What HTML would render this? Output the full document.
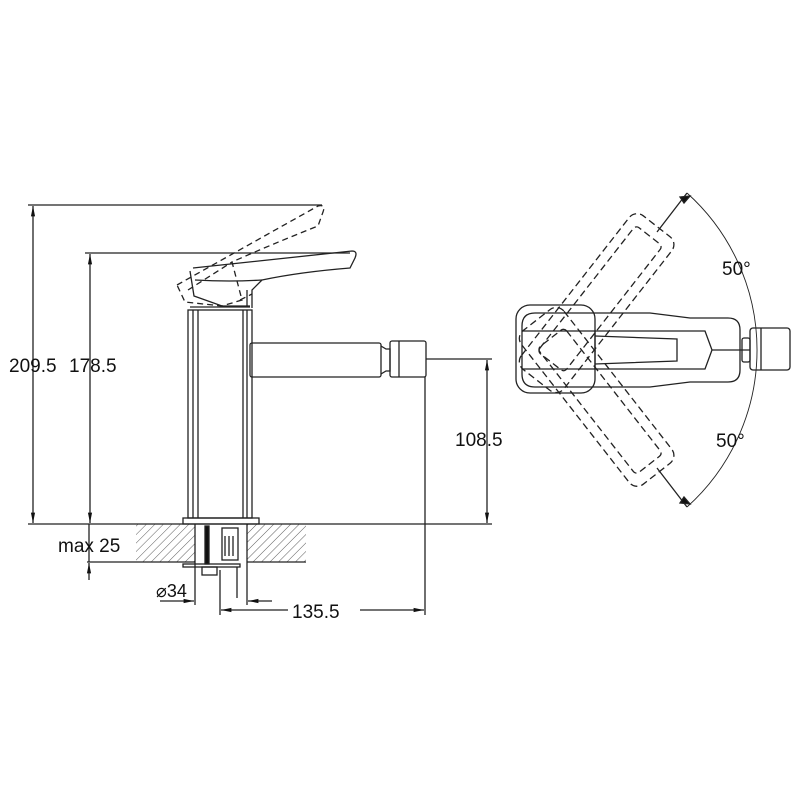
<!DOCTYPE html>
<html><head><meta charset="utf-8"><style>
html,body{margin:0;padding:0;background:#fff}
svg{display:block}
text{font-family:"Liberation Sans",Arial,sans-serif;fill:#111}
</style></head><body>
<svg width="800" height="800" viewBox="0 0 800 800" xmlns="http://www.w3.org/2000/svg">
<defs>
<pattern id="h" width="6" height="6" patternUnits="userSpaceOnUse" patternTransform="rotate(45)">
<line x1="0" y1="0" x2="0" y2="6" stroke="#333" stroke-width="0.8"/>
</pattern>
<marker id="a" viewBox="0 0 10 10" refX="10" refY="5" markerWidth="8" markerHeight="8" orient="auto-start-reverse"><path d="M0,3 L10,5 L0,7 z" fill="#111"/></marker>
</defs>
<g fill="none" stroke="#222" stroke-width="1.3">
<line x1="28" y1="205" x2="322" y2="205"/>
<line x1="85" y1="253" x2="350" y2="253"/>
<line x1="28" y1="524" x2="492" y2="524"/>
<line x1="426" y1="359" x2="492" y2="359"/>
<line x1="87" y1="562" x2="136" y2="562"/>
<line x1="425" y1="377" x2="425" y2="615"/>
<line x1="33" y1="206" x2="33" y2="523" marker-start="url(#a)" marker-end="url(#a)"/>
<line x1="90" y1="254" x2="90" y2="523" marker-start="url(#a)" marker-end="url(#a)"/>
<line x1="487" y1="360" x2="487" y2="523" marker-start="url(#a)" marker-end="url(#a)"/>
<line x1="89" y1="524" x2="89" y2="562"/>
<line x1="89" y1="580" x2="89" y2="563" marker-end="url(#a)"/>
<line x1="160" y1="601" x2="194" y2="601" marker-end="url(#a)"/>
<line x1="272" y1="601" x2="248" y2="601" marker-end="url(#a)"/>
<line x1="195" y1="562" x2="195" y2="605"/>
<line x1="247" y1="562" x2="247" y2="605"/>
<line x1="221" y1="610" x2="288" y2="610" marker-start="url(#a)"/>
<line x1="360" y1="610" x2="424" y2="610" marker-end="url(#a)"/>
<line x1="220" y1="570" x2="220" y2="615"/>
<rect x="136" y="524" width="59" height="38" fill="url(#h)" stroke="none"/>
<rect x="247" y="524" width="59" height="38" fill="url(#h)" stroke="none"/>
<line x1="136" y1="562" x2="195" y2="562"/>
<line x1="247" y1="562" x2="306" y2="562"/>
<line x1="195" y1="524" x2="195" y2="562"/>
<line x1="247" y1="524" x2="247" y2="562"/>
<rect x="205" y="526" width="4" height="38" fill="#111"/>
<rect x="222" y="528" width="16" height="32"/>
<line x1="225" y1="536" x2="225" y2="556"/><line x1="229" y1="536" x2="229" y2="556"/><line x1="233" y1="536" x2="233" y2="556"/>
<rect x="183" y="564" width="57" height="3"/>
<rect x="202" y="567" width="15" height="8"/>
<line x1="237" y1="567" x2="237" y2="598"/>
<rect x="183" y="518" width="76" height="6"/>
<rect x="188" y="310" width="64" height="208"/>
<line x1="193" y1="310" x2="193" y2="518"/><line x1="198" y1="310" x2="198" y2="518"/>
<line x1="243" y1="310" x2="243" y2="518"/><line x1="247" y1="310" x2="247" y2="518"/>
<line x1="190" y1="307" x2="250" y2="307"/>
<rect x="250" y="343" width="131" height="34" rx="2"/>
<path d="M381,346 L386,349 L390,349 L390,371 L386,371 L381,374"/>
<rect x="390" y="341" width="36" height="36" rx="2"/>
<line x1="399" y1="341" x2="399" y2="377"/>
<path d="M193,268 L352,251 Q358,251 355,258 L350,268 Q300,272 262,280 L252,290 L252,308"/>
<path d="M190,271 L194,296 L222,306 L250,306"/>
<path d="M195,280 Q230,282 262,280"/>
<line x1="247" y1="290" x2="247" y2="306"/>
<g stroke-dasharray="6,4">
<path d="M177,285 L318,206 Q326,204 323,212 L318,226 Q270,245 232,262 L242,300 L222,306 L185,302 Z"/>
<path d="M188,290 L232,262"/>
<path d="M240,300 L252,294"/>
</g>
<rect x="516" y="305" width="79" height="88" rx="14"/>
<path d="M535,313 L650,313 L690,318 L728,318 Q740,318 740,330 L740,370 Q740,382 728,382 L690,382 L650,387 L535,387 Q522,387 522,374 L522,326 Q522,313 535,313 Z"/>
<path d="M522,331 L705,331 L712,350 L705,369 L522,369"/>
<path d="M595,336 L677,339 L677,361 L595,364"/>
<line x1="595" y1="331" x2="595" y2="369"/>
<line x1="712" y1="350" x2="750" y2="350"/>
<rect x="742" y="338" width="8" height="24" rx="2"/>
<rect x="750" y="328" width="40" height="42" rx="3"/>
<line x1="761" y1="328" x2="761" y2="370"/>
<g stroke-dasharray="7,4">
<g transform="rotate(-52 560 350)">
<rect x="522" y="323" width="195" height="54" rx="10"/>
<rect x="545" y="333" width="160" height="34" rx="4"/>
</g>
<g transform="rotate(52 560 350)">
<rect x="522" y="323" width="195" height="54" rx="10"/>
<rect x="545" y="333" width="160" height="34" rx="4"/>
</g>
</g>
<path d="M687,193 A211,211 0 0 1 687,507" stroke-width="0.9"/>
<line x1="687" y1="193" x2="657" y2="232"/>
<line x1="687" y1="507" x2="657" y2="468"/>
<path d="M680,197 L690,196 L684,203 z" fill="#111"/>
<path d="M680,503 L690,504 L684,497 z" fill="#111"/>
</g>
<g font-size="19">
<text x="9" y="372">209.5</text>
<text x="69" y="372">178.5</text>
<text x="455" y="446">108.5</text>
<text x="58" y="552">max 25</text>
<text x="156" y="597" font-size="18">⌀34</text>
<text x="292" y="618">135.5</text>
<text x="722" y="275">50°</text>
<text x="716" y="447">50°</text>
</g>
</svg>
</body></html>
